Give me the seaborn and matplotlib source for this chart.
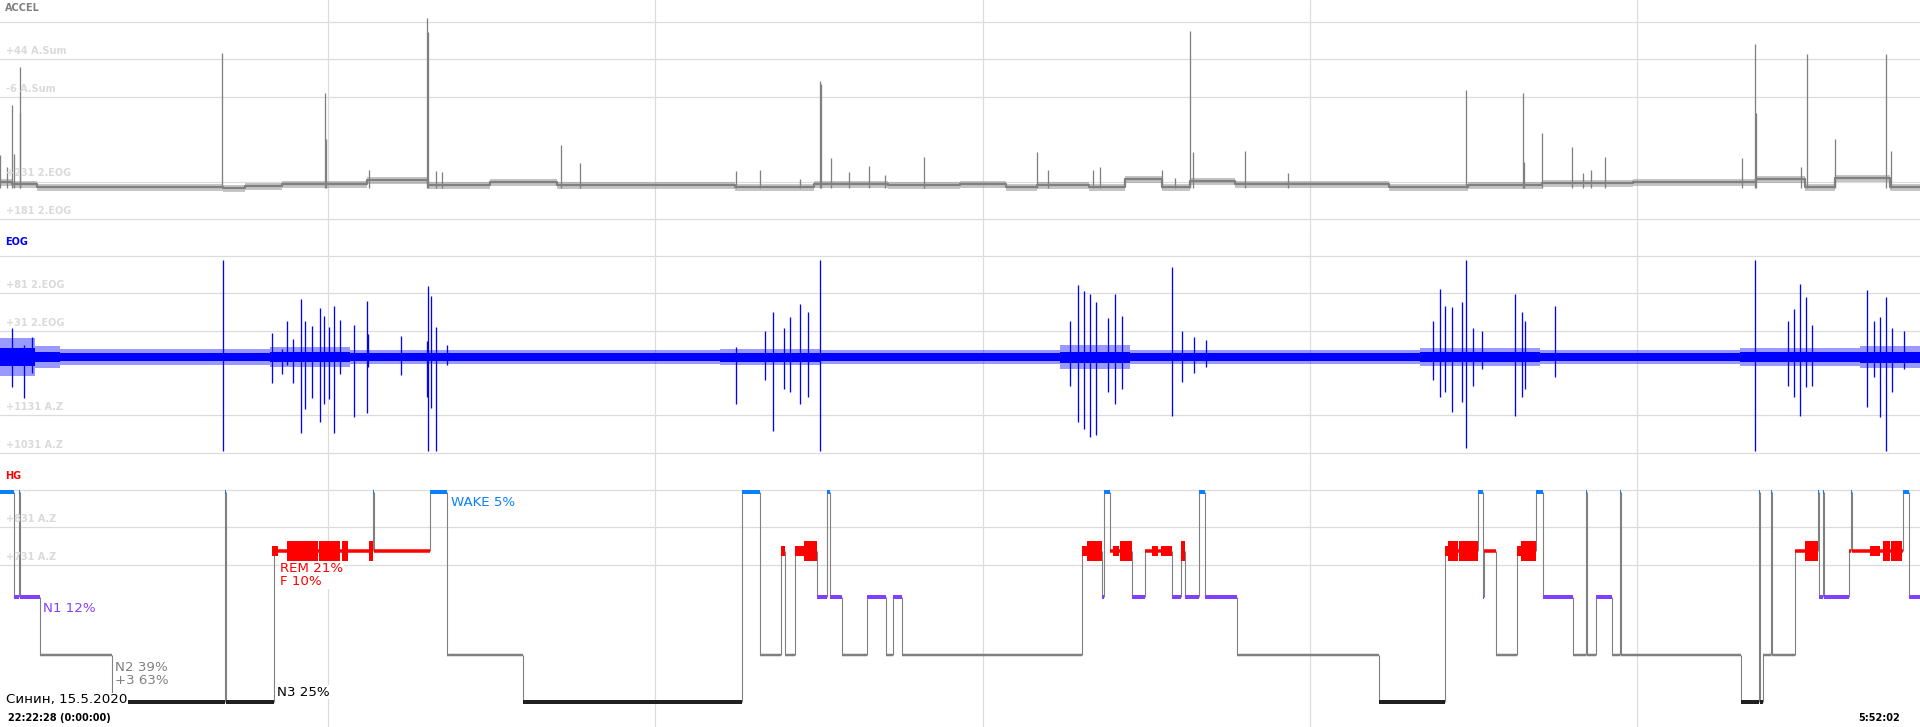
import matplotlib
matplotlib.use("Agg")
import matplotlib.pyplot as plt
import seaborn as sns

# time axis: minutes since 22:22:28, record ends 5:52:02
duration = 449.57
grid_min = [76.8, 153.4, 230.2, 306.7, 383.3]

# ACCEL: slow baseline (step levels) + movement spikes
acc_base_t = [0, 2.8, 8.7, 52.2, 57.4, 66.0, 85.9, 100.2, 114.7, 130.4, 172.1, 190.6, 207.9, 224.8, 235.6,
              242.8, 255.0, 263.4, 272.1, 278.6, 289.2, 325.2, 343.7, 361.1, 382.4, 411.2, 422.6, 429.7, 442.5, 449.6]
acc_base_v = [18, 16, 13, 12, 14, 16, 20, 15, 18, 15, 13, 16, 15, 16, 13,
              15, 13, 21, 13, 19, 16, 13, 15, 17, 18, 21, 13, 22, 13, 13]
acc_spike_t = [0.0, 1.6, 2.8, 3.2, 4.6, 4.7, 52.0, 76.1, 76.3, 86.4, 100.0, 100.2, 102.2, 103.5, 131.4, 135.8,
               172.3, 178.0, 187.3, 192.0, 192.2, 194.6, 198.8, 203.5, 207.2, 216.4, 242.8, 245.4, 255.9, 257.6,
               272.1, 275.1, 278.6, 279.3, 291.5, 301.6, 343.3, 356.6, 356.8, 361.1, 368.1, 370.7, 372.5, 375.8,
               407.9, 410.9, 411.2, 421.7, 423.1, 429.7, 441.6, 442.8]
acc_spike_v = [45, 33, 95, 46, 133, 87, 147, 107, 61, 30, 182, 168, 29, 28, 55, 37,
               29, 30, 21, 119, 116, 42, 28, 34, 25, 43, 48, 30, 30, 33,
               30, 22, 169, 48, 49, 27, 110, 107, 38, 67, 53, 27, 30, 43,
               42, 156, 87, 33, 146, 61, 146, 49]

# EOG: background amplitude envelope (core / peaks) + eye-movement deflections
eog_env_t = [0, 8.2, 14.0, 63.2, 82.0, 168.6, 192.0, 248.2, 264.6, 332.5, 360.6, 407.4, 435.5, 449.6]
eog_core_a = [9, 5, 4, 5, 4, 4.5, 4, 5.5, 4, 5, 4, 5, 5.5, 5.5]
eog_peak_a = [19, 11, 8, 10, 7, 8, 7, 12, 7, 9, 7, 9, 11, 11]
eog_spike_t = [2.8, 5.6, 7.5, 52.2, 63.7, 66.0, 67.2, 68.6, 70.5, 71.4, 73.1, 74.9, 75.9, 77.0, 78.2, 79.6,
               82.9, 85.9, 86.2, 93.9, 100.0, 100.2, 100.9, 102.1, 104.7, 172.3, 179.2, 181.0, 183.5, 185.0,
               187.3, 189.2, 192.0, 250.5, 252.4, 253.8, 255.2, 256.6, 259.5, 261.1, 262.7, 274.4, 276.7,
               279.5, 282.4, 335.5, 337.2, 338.3, 340.0, 342.3, 343.3, 344.9, 346.9, 354.7, 356.4, 357.0,
               364.1, 411.0, 418.6, 420.1, 421.5, 422.9, 424.3, 437.2, 438.7, 440.2, 441.6, 443.0, 445.9]
eog_spike_hi = [29, 12, 20, 97, 24, 8, 36, 18, 58, 36, 31, 49, 41, 30, 51, 37,
                32, 56, 23, 21, 16, 71, 61, 30, 12, 10, 26, 45, 29, 40,
                53, 45, 97, 36, 72, 66, 63, 55, 39, 63, 41, 90, 26,
                20, 17, 36, 68, 51, 50, 55, 97, 29, 26, 63, 45, 36,
                51, 97, 36, 48, 73, 60, 32, 67, 36, 40, 60, 29, 26]
eog_spike_lo = [-30, -41, -16, -94, -26, -17, -8, -26, -76, -52, -41, -65, -47, -42, -76, -17,
                -60, -56, -10, -18, -40, -94, -51, -94, -8, -47, -23, -74, -32, -35,
                -47, -40, -94, -29, -65, -72, -80, -78, -35, -47, -32, -59, -25,
                -16, -10, -23, -40, -35, -55, -45, -91, -29, -12, -59, -40, -32,
                -20, -94, -29, -40, -59, -30, -29, -50, -20, -60, -94, -35, -12]

# hypnogram: stage and start minute of each scored segment
hyp_stage = ['W', 'N1', 'W', 'N1', 'N2', 'N3', 'W', 'N3', 'R', 'W', 'R', 'W', 'N2', 'N3', 'W', 'N2', 'R', 'N2',
             'R', 'N1', 'W', 'N1', 'N2', 'N1', 'N2', 'N1', 'N2', 'R', 'N1', 'W', 'R', 'N1', 'R', 'N1', 'R', 'N1',
             'W', 'N1', 'N2', 'N3', 'R', 'W', 'N1', 'R', 'N2', 'R', 'W', 'N1', 'N2', 'W', 'N2', 'N1', 'N2', 'W',
             'N2', 'N3', 'W', 'N3', 'N2', 'W', 'N2', 'R', 'W', 'N1', 'W', 'N1', 'R', 'W', 'R', 'W', 'N1']
hyp_start = [0, 3.3, 4.4, 4.7, 9.4, 26.2, 52.7, 52.9, 64.2, 87.3, 87.6, 100.7, 104.7, 122.5, 173.7, 178.0, 182.9,
             183.8, 186.1, 191.3, 193.6, 194.3, 197.2, 203.0, 207.5, 209.1, 211.2, 253.4, 258.0, 258.5, 259.9,
             265.1, 268.1, 274.4, 276.5, 277.5, 280.7, 282.2, 289.6, 322.9, 338.4, 346.1, 347.2, 347.5, 350.3,
             355.2, 359.7, 361.3, 368.3, 371.4, 371.6, 373.7, 377.4, 379.3, 379.6, 407.7, 411.9, 412.1, 412.8,
             414.7, 414.9, 420.3, 425.7, 425.9, 426.9, 427.1, 432.9, 433.4, 433.7, 445.6, 447.0]
# REM eye-movement density bursts (1 = medium, 2 = dense)
rem_burst_start = [63.8, 67.2, 74.7, 80.1, 86.4, 182.9, 186.1, 188.3, 253.4, 254.5, 260.6, 262.2, 269.7, 271.8,
                   276.5, 338.4, 339.1, 341.6, 355.2, 356.1, 422.6, 437.9, 440.9, 442.8]
rem_burst_end = [65.1, 74.5, 79.6, 81.5, 87.3, 183.8, 188.5, 191.3, 254.5, 258.0, 262.0, 265.1, 271.1, 274.4,
                 277.5, 339.1, 341.4, 346.1, 356.1, 359.7, 425.7, 440.2, 442.5, 445.4]
rem_burst_level = [1, 2, 2, 2, 2, 1, 1, 2, 1, 2, 1, 2, 1, 1, 2, 1, 2, 2, 1, 2, 2, 1, 2, 2]

stage_pct = {'W': 'WAKE 5%', 'R': 'REM 21%\nF 10%', 'N1': 'N1 12%', 'N2': 'N2 39%\n+3 63%', 'N3': 'N3 25%'}

# ---- styling ----
W, H = 1920, 727
PT = 0.72  # points per pixel at dpi 100
grid_col = '#dcdcdc'
lab_col = '#dadada'
stage_y = {'W': 235, 'R': 176, 'N1': 130, 'N2': 72, 'N3': 25}
stage_col = {'W': '#0a80ff', 'R': '#ff0000', 'N1': '#8040ff', 'N2': '#808080', 'N3': '#202020'}
stage_px = {'W': 4, 'R': 3.5, 'N1': 4, 'N2': 2.5, 'N3': 4}
burst_px = {1: 10, 2: 20}

sns.set_theme(style='white')
plt.rcParams['font.family'] = ['DejaVu Sans']

fig = plt.figure(figsize=(W / 100, H / 100), dpi=100)


def panel(top, bottom, ylim):
    ax = fig.add_axes([0, 1 - bottom / H, 1, (bottom - top) / H])
    ax.set_xlim(0, duration)
    ax.set_ylim(*ylim)
    ax.axis('off')
    for t in grid_min:
        ax.axvline(t, color=grid_col, lw=1.2 * PT, zorder=0)
    return ax


def ftext(x, y, s, **kw):
    fig.text(x / W, 1 - y / H, s, va='center', **kw)


# ACCEL panel (y = 200 - pixel row)
ax_acc = panel(0, 230, (-30, 200))
for g in [178, 141, 103, 18, -19]:
    ax_acc.axhline(g, color=grid_col, lw=1.2 * PT, zorder=0)
ax_acc.fill_between(acc_base_t, [v - 3.5 for v in acc_base_v], [v + 3.5 for v in acc_base_v], step='post',
                    color='#808080', alpha=0.45, lw=0, zorder=3)
sns.lineplot(x=acc_base_t, y=acc_base_v, drawstyle='steps-post', color='#808080', lw=2.2 * PT,
             estimator=None, ax=ax_acc, zorder=3)
ax_acc.vlines(acc_spike_t, 12, acc_spike_v, color='#808080', lw=1.3 * PT, zorder=3)

# EOG panel (y = 357 - pixel row)
ax_eog = panel(230, 460, (-103, 127))
for g in [101, 64, 26, -58, -96]:
    ax_eog.axhline(g, color=grid_col, lw=1.2 * PT, zorder=0)
ax_eog.fill_between(eog_env_t, [-a for a in eog_peak_a], eog_peak_a, step='post', color='#0000ff', alpha=0.4,
                    lw=0, zorder=3)
ax_eog.fill_between(eog_env_t, [-a for a in eog_core_a], eog_core_a, step='post', color='#0000ff', lw=0, zorder=3)
ax_eog.vlines(eog_spike_t, eog_spike_lo, eog_spike_hi, color='#0000ff', lw=1.3 * PT, zorder=3)

# hypnogram panel (y = 727 - pixel row)
ax_hg = panel(460, 727, (0, 267))
for g in [237, 200, 162]:
    ax_hg.axhline(g, color=grid_col, lw=1.2 * PT, zorder=0)
ends = hyp_start[1:] + [duration]
lev = [stage_y[s] for s in hyp_stage]
ax_hg.vlines(hyp_start[1:], lev[:-1], lev[1:], color='#808080', lw=1.1 * PT, zorder=2)
for s, a, b in zip(hyp_stage, hyp_start, ends):
    ax_hg.hlines(stage_y[s], a, max(b, a + 0.3), color=stage_col[s], lw=stage_px[s] * PT,
                 capstyle='butt', zorder=3)
for a, b, k in zip(rem_burst_start, rem_burst_end, rem_burst_level):
    ax_hg.hlines(stage_y['R'], a, b, color=stage_col['R'], lw=burst_px[k] * PT, capstyle='butt', zorder=4)

# channel titles and scale labels
ftext(5, 8, 'ACCEL', color='#808080', fontsize=7, fontweight='bold')
ftext(5, 242, 'EOG', color='#0000ff', fontsize=7, fontweight='bold')
ftext(5, 476, 'HG', color='#ff0000', fontsize=7, fontweight='bold')
for y, s in [(51, '+44 A.Sum'), (89, '-6 A.Sum'), (173, '+231 2.EOG'), (211, '+181 2.EOG'),
             (285, '+81 2.EOG'), (323, '+31 2.EOG'), (407, '+1131 A.Z'), (445, '+1031 A.Z'),
             (519, '+831 A.Z'), (557, '+731 A.Z')]:
    ftext(6, y, s, color=lab_col, fontsize=7, fontweight='bold', zorder=1)

# stage percentages
box = dict(facecolor='white', edgecolor='none', pad=0.5)
ftext(451, 503, stage_pct['W'], color=stage_col['W'], fontsize=9.6, bbox=box)
ftext(280, 575, stage_pct['R'], color=stage_col['R'], fontsize=9.6, linespacing=1.05, bbox=box)
ftext(43, 608, stage_pct['N1'], color=stage_col['N1'], fontsize=9.6, bbox=box)
ftext(115, 674, stage_pct['N2'], color=stage_col['N2'], fontsize=9.6, linespacing=1.05, bbox=box)
ftext(277, 692, stage_pct['N3'], color='#000000', fontsize=9.6, bbox=box)
ftext(6, 700, 'Синин, 15.5.2020', color='#000000', fontsize=9.6, bbox=box, zorder=10)
ftext(8, 718, '22:22:28 (0:00:00)', color='#000000', fontsize=7, fontweight='bold')
ftext(1900, 718, '5:52:02', color='#000000', fontsize=7, fontweight='bold', ha='right')

fig.savefig('out.png', dpi=100, facecolor='white')
